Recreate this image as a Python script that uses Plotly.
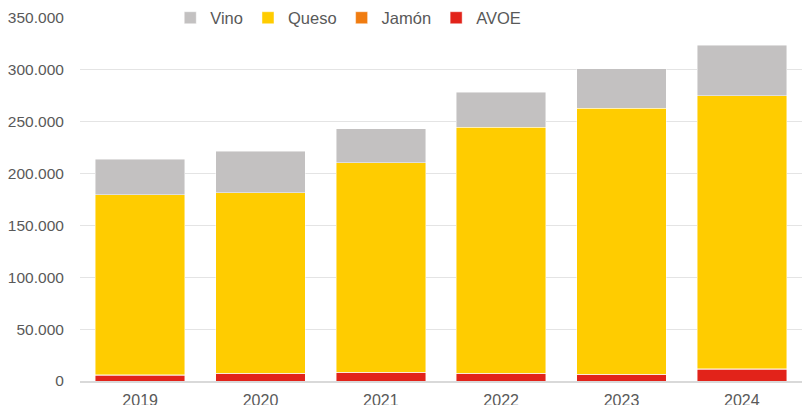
import plotly.graph_objects as go

years = ["2019", "2020", "2021", "2022", "2023", "2024"]
avoe = [5500, 7000, 8000, 7000, 6200, 11300]
jamon = [300, 300, 300, 300, 300, 300]
queso = [174000, 174000, 202000, 237300, 256500, 263500]
vino = [34000, 40000, 33000, 34000, 38000, 48600]

series = [
    ("AVOE", avoe, "#E2231A"),
    ("Jamón", jamon, "#F07C10"),
    ("Queso", queso, "#FFCC00"),
    ("Vino", vino, "#C3C1C1"),
]

fig = go.Figure()
for name, vals, col in series:
    fig.add_trace(go.Bar(
        name=name, x=years, y=vals,
        marker=dict(color=col, line=dict(color="rgba(255,255,255,0.6)", width=0.75)),
    ))

font_color = "#595959"
fig.update_layout(
    width=802, height=405,
    barmode="stack", bargap=0.255,
    paper_bgcolor="white", plot_bgcolor="white",
    margin=dict(l=80, r=0, t=18, b=24, autoexpand=False),
    font=dict(family="Liberation Sans, Arial, sans-serif", color=font_color, size=16),
    separators=",.",
    legend=dict(
        orientation="h", traceorder="reversed",
        x=0.125, xanchor="left", y=1.0, yanchor="middle",
        bgcolor="white", font=dict(size=16.5, color=font_color),
        itemwidth=30,
    ),
    xaxis=dict(
        showgrid=False, showline=True, linecolor="#D9D9D9", linewidth=2,
        ticks="outside", ticklen=4, tickcolor="rgba(0,0,0,0)",
        tickfont=dict(size=16, color=font_color), automargin=False,
    ),
    yaxis=dict(
        range=[0, 350000], dtick=50000, tickformat=",d",
        showgrid=True, gridcolor="#E4E4E4", gridwidth=1, zeroline=False,
        ticks="outside", ticklen=12, tickcolor="rgba(0,0,0,0)",
        tickfont=dict(size=15.5, color=font_color), automargin=False,
    ),
)

fig.write_html("out.html", config={"displayModeBar": False},
               post_script="document.body.style.margin='0';")
